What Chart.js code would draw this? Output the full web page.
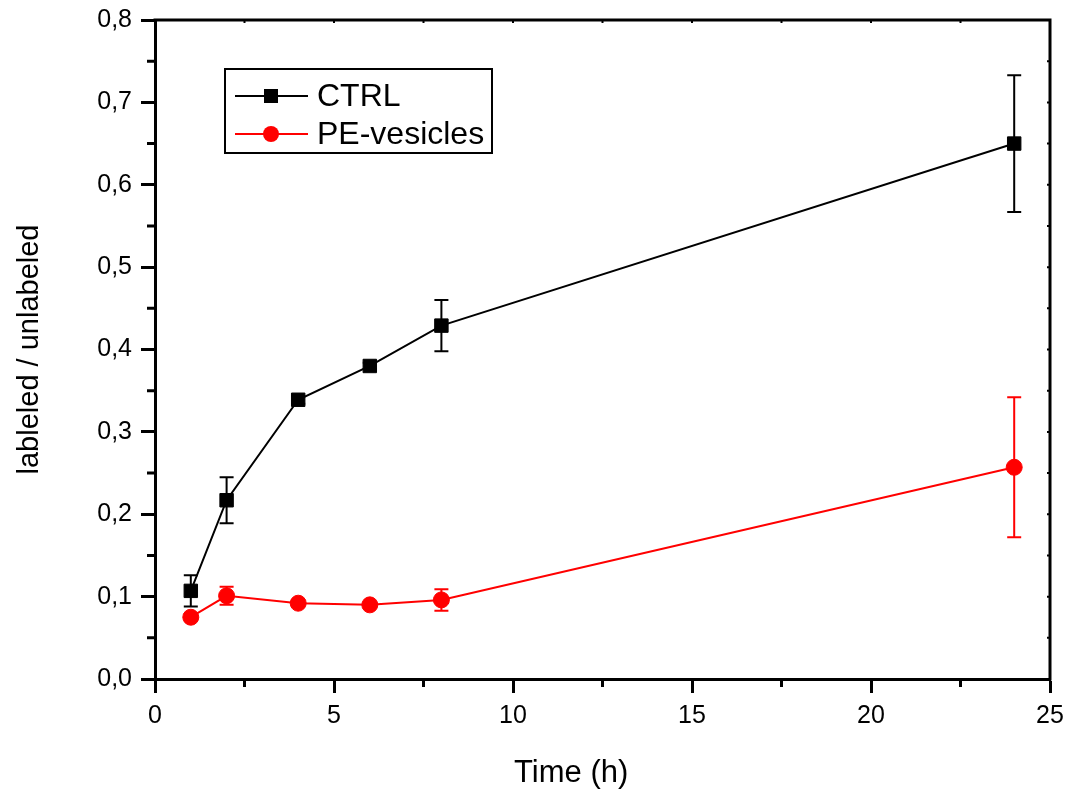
<!DOCTYPE html>
<html>
<head>
<meta charset="utf-8">
<script src="https://cdn.jsdelivr.net/npm/chart.js@4/dist/chart.umd.min.js"></script>
<style>
  html, body { margin: 0; padding: 0; background: #ffffff; }
  #wrap { width: 1068px; height: 796px; position: relative; }
</style>
</head>
<body>
<div id="wrap"><canvas id="c" width="1068" height="796"></canvas></div>
<script>
// ---- Data ----
const times = [1, 2, 4, 6, 8, 24];
const ctrlValues = [0.107, 0.217, 0.339, 0.380, 0.429, 0.650];
const ctrlErrors = [0.019, 0.028, 0.005, 0.004, 0.031, 0.083];
const peValues = [0.075, 0.101, 0.092, 0.090, 0.096, 0.257];
const peErrors = [0.004, 0.011, 0.004, 0.003, 0.013, 0.085];
const seriesNames = ['CTRL', 'PE-vesicles'];
const xTitle = 'Time (h)';
const yTitle = 'lableled / unlabeled';
const xMinorTicks = [2.5, 7.5, 12.5, 17.5, 22.5];
const yMinorTicks = [0.05, 0.15, 0.25, 0.35, 0.45, 0.55, 0.65, 0.75];

const FONT = "'Liberation Sans', Arial, sans-serif";

function toPoints(xs, ys) { return xs.map((x, i) => ({ x: x, y: ys[i] })); }

const errorBarPlugin = {
  id: 'errorBars',
  beforeDatasetsDraw(chart) {
    const ctx = chart.ctx;
    const xs = chart.scales.x, ys = chart.scales.y;
    chart.data.datasets.forEach((ds, di) => {
      const errs = ds.errors || [];
      ctx.save();
      ctx.strokeStyle = ds.borderColor;
      ctx.lineWidth = 2;
      ds.data.forEach((p, i) => {
        const e = errs[i];
        if (!e) return;
        const px = xs.getPixelForValue(p.x);
        const top = ys.getPixelForValue(p.y + e);
        const bot = ys.getPixelForValue(p.y - e);
        ctx.beginPath();
        ctx.moveTo(px, top); ctx.lineTo(px, bot);
        ctx.moveTo(px - 7, top); ctx.lineTo(px + 7, top);
        ctx.moveTo(px - 7, bot); ctx.lineTo(px + 7, bot);
        ctx.stroke();
      });
      ctx.restore();
    });
  }
};

const framePlugin = {
  id: 'frame',
  afterDraw(chart) {
    const ctx = chart.ctx;
    const a = chart.chartArea;
    const xs = chart.scales.x, ys = chart.scales.y;
    ctx.save();
    ctx.strokeStyle = '#000';
    ctx.lineWidth = 3;
    ctx.lineCap = 'square';
    // top and right frame lines
    ctx.beginPath();
    ctx.moveTo(a.left, a.top); ctx.lineTo(a.right, a.top); ctx.lineTo(a.right, a.bottom);
    ctx.stroke();
    ctx.lineCap = 'butt';
    // minor ticks outside (left / bottom)
    ctx.beginPath();
    yMinorTicks.forEach(v => {
      const py = ys.getPixelForValue(v);
      ctx.moveTo(a.left - 8, py); ctx.lineTo(a.left, py);
    });
    xMinorTicks.forEach(v => {
      const px = xs.getPixelForValue(v);
      ctx.moveTo(px, a.bottom); ctx.lineTo(px, a.bottom + 8);
    });
    ctx.stroke();
    // small inward ticks on top / right
    ctx.lineWidth = 2;
    ctx.beginPath();
    ys.ticks.map(t => t.value).concat(yMinorTicks).forEach(v => {
      const py = ys.getPixelForValue(v);
      ctx.moveTo(a.right - 3, py); ctx.lineTo(a.right, py);
    });
    xs.ticks.map(t => t.value).concat(xMinorTicks).forEach(v => {
      const px = xs.getPixelForValue(v);
      ctx.moveTo(px, a.top); ctx.lineTo(px, a.top + 3);
    });
    ctx.stroke();

    // x axis title
    ctx.fillStyle = '#000';
    ctx.font = '31px ' + FONT;
    ctx.textAlign = 'center';
    ctx.textBaseline = 'middle';
    ctx.fillText(xTitle, a.left + (a.right - a.left) * 0.465, 773);

    // legend box
    const bx = a.left + 70, by = a.top + 49, bw = 267, bh = 84;
    ctx.lineWidth = 2;
    ctx.strokeRect(bx, by, bw, bh);
    ctx.font = '32px ' + FONT;
    ctx.textAlign = 'left';
    chart.data.datasets.forEach((ds, i) => {
      const cy = by + 27 + i * 38;
      ctx.strokeStyle = ds.borderColor;
      ctx.lineWidth = ds.borderWidth;
      ctx.beginPath();
      ctx.moveTo(bx + 10, cy); ctx.lineTo(bx + 83, cy);
      ctx.stroke();
      ctx.fillStyle = ds.borderColor;
      const mx = bx + 46;
      if (ds.pointStyle === 'rect') {
        ctx.fillRect(mx - 7, cy - 7, 14, 14);
      } else {
        ctx.beginPath(); ctx.arc(mx, cy, 8, 0, Math.PI * 2); ctx.fill();
      }
      ctx.fillStyle = '#000';
      ctx.fillText(ds.label, bx + 92, cy + 1);
    });
    ctx.restore();
  }
};

new Chart(document.getElementById('c'), {
  type: 'line',
  data: {
    datasets: [
      {
        label: seriesNames[0],
        data: toPoints(times, ctrlValues),
        errors: ctrlErrors,
        borderColor: '#000000',
        backgroundColor: '#000000',
        borderWidth: 2,
        pointStyle: 'rect',
        pointRadius: 9.5,
        pointBorderWidth: 1,
        tension: 0
      },
      {
        label: seriesNames[1],
        data: toPoints(times, peValues),
        errors: peErrors,
        borderColor: '#ff0000',
        backgroundColor: '#ff0000',
        borderWidth: 2,
        pointStyle: 'circle',
        pointRadius: 8,
        pointBorderWidth: 1,
        tension: 0
      }
    ]
  },
  options: {
    responsive: false,
    animation: false,
    layout: { padding: { top: 20, right: 18, left: 0, bottom: 0 } },
    plugins: { legend: { display: false }, tooltip: { enabled: false } },
    scales: {
      x: {
        type: 'linear',
        min: 0, max: 25,
        afterFit(s) { s.height = 117; s.paddingLeft = 0; s.paddingRight = 0; },
        ticks: { stepSize: 5, padding: 8, color: '#000', font: { family: FONT, size: 25 },
          callback: v => String(v) },
        grid: { drawOnChartArea: false, drawTicks: true, tickLength: 14, tickWidth: 3, tickColor: '#000' },
        border: { display: true, color: '#000', width: 3 },
        title: { display: false }
      },
      y: {
        type: 'linear',
        min: 0, max: 0.8,
        afterFit(s) { s.width = 155; s.paddingTop = 0; s.paddingBottom = 0; },
        ticks: { stepSize: 0.1, padding: 9, color: '#000', font: { family: FONT, size: 25 },
          callback: v => v.toFixed(1).replace('.', ',') },
        grid: { drawOnChartArea: false, drawTicks: true, tickLength: 14, tickWidth: 3, tickColor: '#000' },
        border: { display: true, color: '#000', width: 3 },
        title: { display: true, text: yTitle, color: '#000', font: { family: FONT, size: 29 }, padding: { top: 13, bottom: 0 } }
      }
    }
  },
  plugins: [errorBarPlugin, framePlugin]
});
</script>
</body>
</html>
